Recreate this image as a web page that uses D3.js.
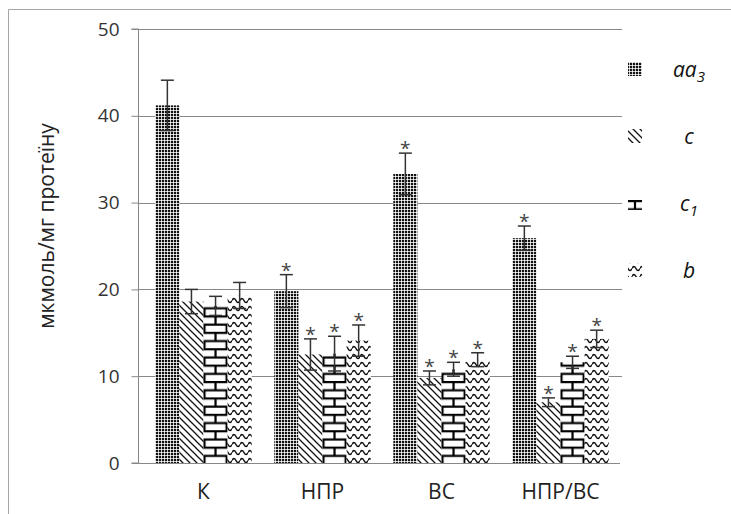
<!DOCTYPE html>
<html>
<head>
<meta charset="utf-8">
<script src="https://cdn.jsdelivr.net/npm/d3@7"></script>
<style>
  html, body { margin: 0; padding: 0; background: #fff; }
  svg { display: block; font-family: "Open Sans", "Noto Sans", sans-serif; }
</style>
</head>
<body>
<svg id="chart" width="731" height="514"></svg>
<script>
// Cytochrome content by group, mean ± error, мкмоль/мг протеїну
const categories = ["К", "НПР", "ВС", "НПР/ВС"];
const seriesKeys = ["aa3", "c", "c1", "b"];
const aa3Values = [41.2, 19.8, 33.3, 25.9];
const aa3Errors = [2.9, 1.9, 2.4, 1.4];
const cValues = [18.6, 12.5, 9.8, 7.0];
const cErrors = [1.4, 1.8, 0.8, 0.5];
const c1Values = [18.1, 12.6, 10.8, 11.6];
const c1Errors = [1.1, 2.0, 0.8, 0.7];
const bValues = [19.3, 14.1, 11.9, 14.3];
const bErrors = [1.5, 1.8, 0.8, 1.0];
const significant = [false, true, true, true];
const yTicks = [0, 10, 20, 30, 40, 50];
const yLabel = "мкмоль/мг протеїну";

const valuesByKey = { aa3: aa3Values, c: cValues, c1: c1Values, b: bValues };
const errorsByKey = { aa3: aa3Errors, c: cErrors, c1: c1Errors, b: bErrors };

const rows = [];
categories.forEach((cat, i) => {
  seriesKeys.forEach(key => {
    rows.push({ cat, i, key, value: valuesByKey[key][i], err: errorsByKey[key][i], star: significant[i] });
  });
});

const svg = d3.select("#chart");
const axisColor = "#888";

const y = d3.scaleLinear().domain([0, 50]).range([463, 29]);
const x0 = d3.scaleBand().domain(categories).range([144, 620]).paddingInner(0.19).paddingOuter(0.095);
const x1 = d3.scaleBand().domain(seriesKeys).range([0, x0.bandwidth()]);

// Outer frame
svg.append("path")
  .attr("d", "M8.5,514 V9.5 H731")
  .attr("fill", "none").attr("stroke", "#a6a6a6").attr("stroke-width", 1);

// Fill patterns
const defs = svg.append("defs");

const pDots = defs.append("pattern").attr("id", "pat-aa3")
  .attr("patternUnits", "userSpaceOnUse").attr("width", 3).attr("height", 3);
pDots.append("rect").attr("width", 3).attr("height", 3).attr("fill", "#c8c8c8");
pDots.append("rect").attr("width", 2).attr("height", 2).attr("fill", "#111");
pDots.append("rect").attr("x", 2).attr("y", 2).attr("width", 1).attr("height", 1).attr("fill", "#fff");

const pDiag = defs.append("pattern").attr("id", "pat-c")
  .attr("patternUnits", "userSpaceOnUse").attr("width", 7).attr("height", 7);
pDiag.append("rect").attr("width", 7).attr("height", 7).attr("fill", "#fff");
pDiag.append("path").attr("d", "M-1,-1 L8,8 M-1,6 L1,8 M6,-1 L8,1")
  .attr("stroke", "#111").attr("stroke-width", 1.3);

const pWave = defs.append("pattern").attr("id", "pat-b")
  .attr("patternUnits", "userSpaceOnUse").attr("width", 8).attr("height", 8);
pWave.append("rect").attr("width", 8).attr("height", 8).attr("fill", "#fff");
pWave.append("path").attr("d", "M0,4.5 Q2,0.3 4,4.5 T8,4.5")
  .attr("fill", "none").attr("stroke", "#111").attr("stroke-width", 1.5);

// Brick pattern, one per group so the joints line up with each bar
function addBrick(id, xPos, w, yPos) {
  const p = defs.append("pattern").attr("id", id)
    .attr("patternUnits", "userSpaceOnUse")
    .attr("x", xPos).attr("y", yPos)
    .attr("width", w).attr("height", 16.4);
  p.append("rect").attr("width", w).attr("height", 16.4).attr("fill", "#fff");
  p.append("path")
    .attr("d", `M0,1 H${w} M0,9.2 H${w} M${w / 2},1 V9.2 M1,9.2 V17.4 M${w - 1},9.2 V17.4`)
    .attr("stroke", "#000").attr("stroke-width", 2.2).attr("fill", "none");
}
categories.forEach((cat, i) => addBrick("pat-c1-" + i, x0(cat) + x1("c1"), x1.bandwidth(), y(0)));
addBrick("pat-c1-legend", 625, 20, 200);

const fillFor = d => d.key === "c1" ? `url(#pat-c1-${d.i})` : `url(#pat-${d.key})`;

// Gridlines
svg.append("g").selectAll("line").data(yTicks.filter(t => t > 0)).join("line")
  .attr("x1", 138).attr("x2", 622)
  .attr("y1", d => Math.round(y(d)) + 0.5).attr("y2", d => Math.round(y(d)) + 0.5)
  .attr("stroke", axisColor).attr("stroke-width", 1);

// Bars
svg.append("g").selectAll("rect").data(rows).join("rect")
  .attr("x", d => x0(d.cat) + x1(d.key))
  .attr("y", d => y(d.value))
  .attr("width", x1.bandwidth())
  .attr("height", d => y(0) - y(d.value))
  .attr("fill", fillFor);

// Error bars
const eb = svg.append("g").attr("stroke", "#333").attr("stroke-width", 1.5);
const cx = d => x0(d.cat) + x1(d.key) + x1.bandwidth() / 2;
eb.selectAll(".stem").data(rows).join("line")
  .attr("x1", cx).attr("x2", cx)
  .attr("y1", d => y(d.value + d.err)).attr("y2", d => y(d.value - d.err));
eb.selectAll(".capTop").data(rows).join("line")
  .attr("x1", d => cx(d) - 6.5).attr("x2", d => cx(d) + 6.5)
  .attr("y1", d => y(d.value + d.err)).attr("y2", d => y(d.value + d.err));
eb.selectAll(".capBot").data(rows).join("line")
  .attr("x1", d => cx(d) - 6.5).attr("x2", d => cx(d) + 6.5)
  .attr("y1", d => y(d.value - d.err)).attr("y2", d => y(d.value - d.err));

// Significance marks
svg.append("g").selectAll("text").data(rows.filter(d => d.star)).join("text")
  .attr("x", cx).attr("y", d => y(d.value + d.err) + 2)
  .attr("text-anchor", "middle").attr("font-size", 19).attr("fill", "#444")
  .text("*");

// Y axis
const yAxis = svg.append("g").attr("transform", "translate(138.5,0)")
  .call(d3.axisLeft(y).tickValues(yTicks).tickSize(7).tickPadding(12));
yAxis.select(".domain").attr("stroke", axisColor).attr("d", `M-7,${y(50)}H0V${y(0)}H-7`);
yAxis.selectAll(".tick line").attr("stroke", axisColor);
yAxis.selectAll(".tick text").attr("font-size", 19).attr("fill", "#333")
  .attr("font-family", "'Open Sans', sans-serif");

// X axis baseline and category labels
svg.append("line").attr("x1", 138).attr("x2", 620)
  .attr("y1", Math.round(y(0)) + 0.5).attr("y2", Math.round(y(0)) + 0.5)
  .attr("stroke", axisColor);
svg.append("g").selectAll("text").data(categories).join("text")
  .attr("x", d => x0(d) + x0.bandwidth() / 2)
  .attr("y", 499)
  .attr("text-anchor", "middle").attr("font-size", 21).attr("fill", "#222")
  .text(d => d);

// Y label
svg.append("text")
  .attr("transform", `translate(54,226) rotate(-90)`)
  .attr("text-anchor", "middle").attr("font-size", 21).attr("fill", "#222")
  .text(yLabel);

// Legend
const legendY = [69, 136, 203, 270];
const legendText = [["aa", "3"], ["c", null], ["c", "1"], ["b", null]];
const lg = svg.append("g");
seriesKeys.forEach((key, k) => {
  lg.append("rect")
    .attr("x", 628).attr("y", legendY[k] - 7).attr("width", 14).attr("height", 14)
    .attr("fill", key === "c1" ? "url(#pat-c1-legend)" : `url(#pat-${key})`);
  const t = lg.append("text")
    .attr("x", 689).attr("y", legendY[k] + 8)
    .attr("text-anchor", "middle").attr("font-size", 21).attr("font-style", "italic").attr("fill", "#111");
  t.append("tspan").text(legendText[k][0]);
  if (legendText[k][1]) {
    t.append("tspan").attr("font-size", 15).attr("dy", 5).text(legendText[k][1]);
  }
});
</script>
</body>
</html>
